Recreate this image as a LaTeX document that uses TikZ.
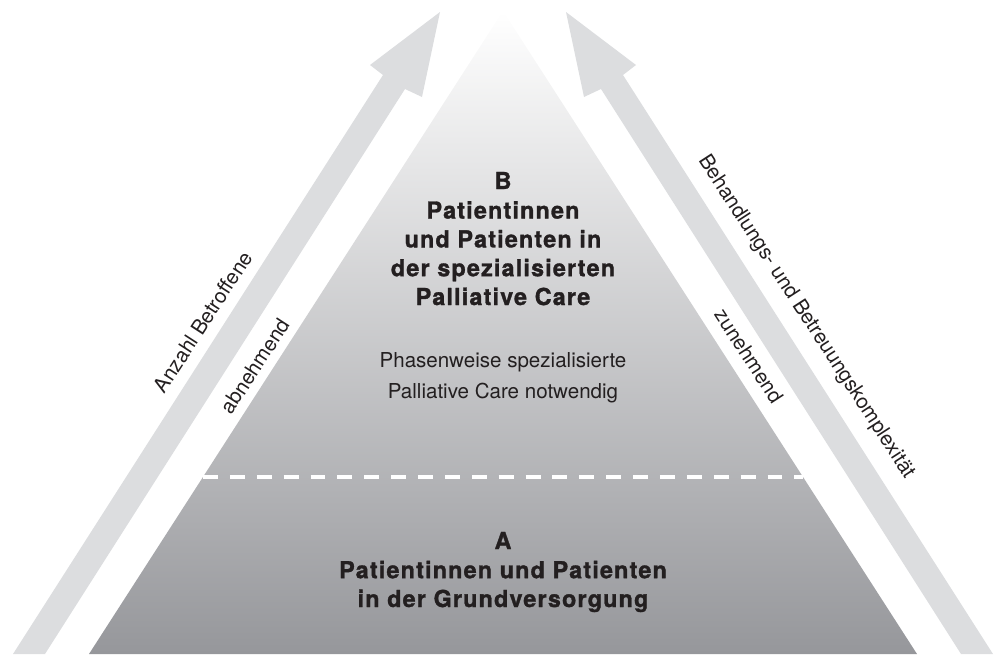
\documentclass[tikz,border=0pt]{standalone}
\usepackage{fontspec}
\setmainfont{TeX Gyre Heros}
\newfontfamily\heavyfont[LetterSpace=5, BoldFeatures={FakeBold=1.3}]{TeX Gyre Heros}
\usetikzlibrary{positioning}

\definecolor{bandgray}{HTML}{DCDDDF}
\definecolor{pyrgray}{HTML}{96979B}
\definecolor{textdark}{HTML}{231F20}

\tikzset{
	band/.style={fill=bandgray},
	heading/.style={font=\heavyfont\fontsize{13.3}{16.4}\selectfont\bfseries, text=textdark, align=center, inner sep=0pt},
	plain/.style={font=\fontsize{11.7}{17.6}\selectfont, text=textdark, align=center, inner sep=0pt},
	slopetext/.style={font=\fontsize{11.7}{14}\selectfont, text=textdark, inner sep=0pt}
}

\begin{document}
\begin{tikzpicture}[x=0.02cm, y=-0.02cm]
	\useasboundingbox (0,0) rectangle (998,654);
	% arrows left and right
	\foreach \s in {1,-1}
		\fill[band, shift={(503,0)}, xscale=\s] (-490,654) -- (-120,75) -- (-133,65) -- (-63,12) -- (-81,97) -- (-98,89) -- (-458,654) -- cycle;
	% pyramid
	\coordinate (apex) at (503,11);
	\coordinate (baseL) at (89,654);
	\coordinate (baseR) at (917,654);
	\shade[top color=white, bottom color=pyrgray] (apex) -- (baseL) -- (baseR) -- cycle;
	\coordinate (splitL) at (203,477);
	\coordinate (splitR) at (803,477);
	\draw[white, line width=2.6pt, dash pattern=on 8.5pt off 6.8pt] (splitL) -- (splitR);
	% level B (base = last line)
	\node[heading, anchor=base] (letterB) at (503,189) {B};
	\node[heading, anchor=base] (titleB) at (503,305) {Patientinnen\\und Patienten in\\der spezialisierten\\Palliative Care};
	\node[plain, anchor=base] (noteB) at (503,398) {Phasenweise spezialisierte\\Palliative Care notwendig};
	% level A
	\node[heading, anchor=base] (letterA) at (503,549) {A};
	\node[heading, anchor=base] (titleA) at (503,607) {Patientinnen und Patienten\\in der Grundversorgung};
	% labels along the arrows
	\node[slopetext, rotate=57] (countL) at (203,322) {Anzahl Betroffene};
	\node[slopetext, rotate=57] (countR) at (255,366) {abnehmend};
	\node[slopetext, rotate=-57] (complexR) at (749,356) {zunehmend};
	\node[slopetext, rotate=-57] (complexL) at (806,317) {Behandlungs- und Betreuungskomplexität};
\end{tikzpicture}
\end{document}
